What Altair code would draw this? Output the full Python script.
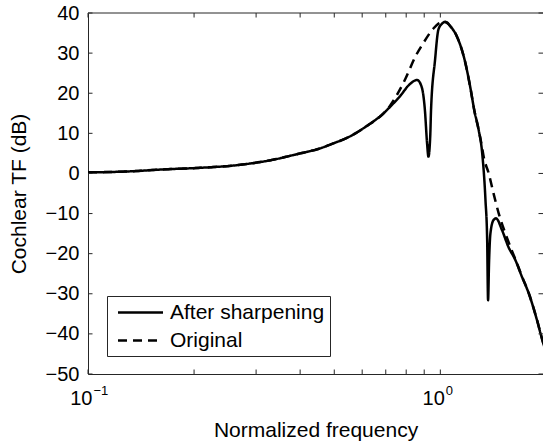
import altair as alt
import pandas as pd

# ---- data ----
sharp_freq = [0.1, 0.13, 0.163, 0.208, 0.267, 0.33, 0.4, 0.45, 0.497, 0.55, 0.62, 0.69,
              0.72, 0.769, 0.82, 0.859, 0.885, 0.904, 0.917, 0.925, 0.936, 0.941, 0.966,
              0.987, 1.01, 1.033, 1.07, 1.115, 1.178, 1.216, 1.25, 1.285, 1.313, 1.343,
              1.358, 1.366, 1.375, 1.387, 1.416, 1.439, 1.496, 1.56, 1.633, 1.70, 1.782,
              1.87, 1.96, 2.0]
sharp_db = [0.27, 0.5, 1.0, 1.4, 2.1, 3.3, 5.0, 6.1, 7.5, 9.1, 11.9, 15.0,
            16.6, 19.3, 22.3, 23.3, 21.6, 15.8, 7.5, 4.2, 9.2, 15.8, 28.3,
            35.8, 37.3, 37.8, 36.6, 34.1, 27.5, 21.5, 15.5, 10.8, 5.5, -6.6,
            -16.6, -31.6, -22.0, -15.0, -11.6, -11.2, -14.1, -18.3, -21.6, -25.5, -29.9,
            -35.8, -42.4, -44.8]

orig_freq = [0.1, 0.13, 0.163, 0.208, 0.267, 0.33, 0.4, 0.45, 0.497, 0.55, 0.62, 0.69,
             0.72, 0.76, 0.796, 0.849, 0.896, 0.957, 0.99, 1.022, 1.05, 1.07, 1.115,
             1.178, 1.216, 1.25, 1.285, 1.313, 1.327, 1.372, 1.416, 1.465, 1.53, 1.597,
             1.633, 1.70, 1.782, 1.87, 1.96, 2.0]
orig_db = [0.27, 0.5, 1.0, 1.4, 2.1, 3.3, 5.0, 6.1, 7.5, 9.1, 11.9, 15.0,
           16.9, 20.2, 23.6, 29.1, 32.6, 36.2, 37.4, 37.8, 37.4, 36.6, 34.1,
           27.5, 21.5, 15.5, 10.8, 6.6, 4.2, 0.0, -5.0, -10.0, -15.0, -19.3,
           -21.4, -25.4, -29.8, -35.7, -42.3, -44.7]

series_names = ["After sharpening", "Original"]
x_major = [0.1, 1.0]
x_label_base = ["10", "10"]
x_label_exp = ["\u22121", "0"]
x_minor = [0.2, 0.3, 0.4, 0.5, 0.6, 0.7, 0.8, 0.9]
y_ticks = [-50, -40, -30, -20, -10, 0, 10, 20, 30, 40]

# ---- layout / style ----
W, H = 455, 361
TL = 4.5
FONT = "Liberation Sans"
AX = "#262626"

df = pd.concat([
    pd.DataFrame({"freq": orig_freq, "db": orig_db, "series": series_names[1]}),
    pd.DataFrame({"freq": sharp_freq, "db": sharp_db, "series": series_names[0]}),
])

xscale = alt.Scale(type="log", domain=[0.1, 1.956], nice=False)
yscale = alt.Scale(domain=[-50, 40], nice=False)

lines = alt.Chart(df).mark_line(
    strokeWidth=2.5, color="black", interpolate="monotone", clip=True
).encode(
    x=alt.X("freq:Q", scale=xscale, axis=alt.Axis(
        values=x_major, labels=False,
        ticks=False, grid=False, domainColor=AX, domainWidth=1,
        title="Normalized frequency", titleFont=FONT, titleFontSize=21,
        titleFontWeight="normal", titleColor="black", titlePadding=45)),
    y=alt.Y("db:Q", scale=yscale, axis=alt.Axis(
        values=y_ticks, ticks=False, grid=False, domainColor=AX, domainWidth=1,
        labelFont=FONT, labelFontSize=20, labelColor="black", labelPadding=9,
        title="Cochlear TF (dB)", titleFont=FONT, titleFontSize=21,
        titleFontWeight="normal", titleColor="black", titlePadding=16)),
    strokeDash=alt.StrokeDash("series:N", scale=alt.Scale(
        domain=series_names, range=[[1, 0], [9, 6]]), legend=alt.Legend(
        title=None, orient="none", legendX=19, legendY=283, direction="vertical",
        fillColor="white", strokeColor=AX, padding=5, rowPadding=6,
        symbolType="M-0.55,0H3.95", symbolSize=400, symbolStrokeWidth=2.5,
        symbolStrokeColor="black", labelFont=FONT, labelFontSize=21,
        labelColor="black", labelOffset=35, labelLimit=400)),
)

ticks_x = pd.DataFrame({"freq": x_major + x_minor})
ticks_y = pd.DataFrame({"db": y_ticks})
xlabels = pd.DataFrame({"freq": x_major, "base": x_label_base, "exp": x_label_exp})

label_base = alt.Chart(xlabels).mark_text(
    font=FONT, fontSize=20, color="black", align="right", baseline="alphabetic", dx=4.5
).encode(x=alt.X("freq:Q", scale=xscale), y=alt.value(H + 31), text="base:N")
label_exp = alt.Chart(xlabels).mark_text(
    font=FONT, fontSize=13, color="black", align="left", baseline="alphabetic", dx=5.5
).encode(x=alt.X("freq:Q", scale=xscale), y=alt.value(H + 21), text="exp:N")

bottom_ticks = alt.Chart(ticks_x).mark_rule(color=AX, strokeWidth=1).encode(
    x=alt.X("freq:Q", scale=xscale), y=alt.value(H), y2=alt.value(H - TL))
top_ticks = alt.Chart(ticks_x).mark_rule(color=AX, strokeWidth=1).encode(
    x=alt.X("freq:Q", scale=xscale), y=alt.value(0), y2=alt.value(TL))
left_ticks = alt.Chart(ticks_y).mark_rule(color=AX, strokeWidth=1).encode(
    y=alt.Y("db:Q", scale=yscale), x=alt.value(0), x2=alt.value(TL))
right_ticks = alt.Chart(ticks_y).mark_rule(color=AX, strokeWidth=1).encode(
    y=alt.Y("db:Q", scale=yscale), x=alt.value(W - TL), x2=alt.value(W))
top_border = alt.Chart(pd.DataFrame({"k": [0]})).mark_rule(color=AX, strokeWidth=1).encode(
    x=alt.value(0), x2=alt.value(W), y=alt.value(0))

chart = alt.layer(
    lines, bottom_ticks, top_ticks, left_ticks, right_ticks, top_border,
    label_base, label_exp
).properties(
    width=W, height=H,
    autosize=alt.AutoSizeParams(type="none"),
    padding={"left": 88, "top": 13, "right": 0, "bottom": 71},
    background="white",
).configure_view(stroke=None)

chart.save("out.html", embed_options={"renderer": "svg", "actions": False})
